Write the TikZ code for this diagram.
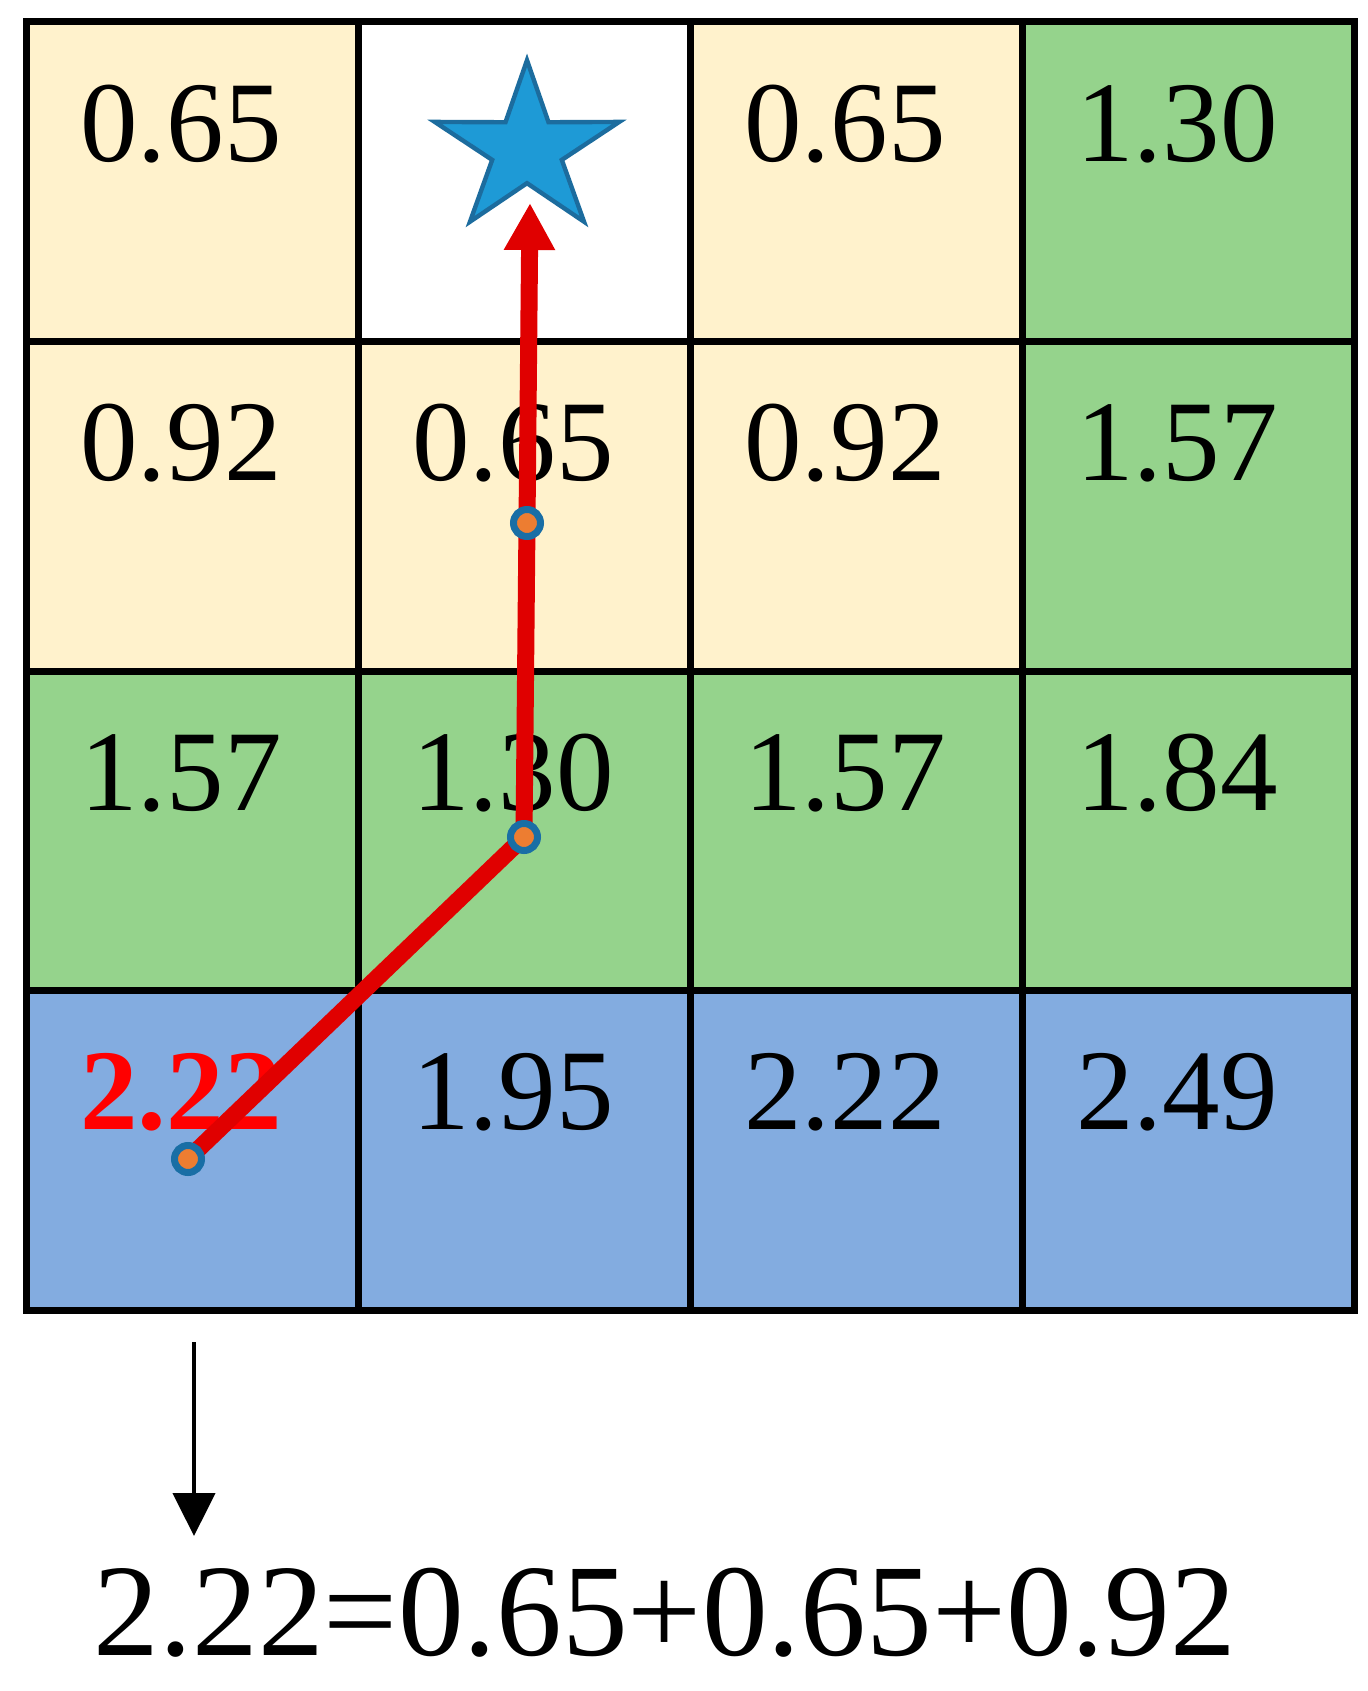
\documentclass[tikz,border=0pt]{standalone}
\usepackage{fontspec}
\setmainfont{Liberation Serif}
\usetikzlibrary{shapes.geometric,arrows.meta}
\definecolor{cellyellow}{RGB}{255,242,204}
\definecolor{cellgreen}{RGB}{149,211,140}
\definecolor{cellblue}{RGB}{131,172,224}
\definecolor{pathred}{RGB}{224,0,0}
\definecolor{starfill}{RGB}{30,154,214}
\definecolor{stardraw}{RGB}{28,108,158}
\definecolor{dotfill}{RGB}{237,125,49}
\definecolor{dotdraw}{RGB}{25,110,165}
\pgfdeclarelayer{lines}
\pgfdeclarelayer{front}
\pgfsetlayers{main,lines,front}
\begin{document}
\begin{tikzpicture}[x=0.5pt,y=-0.5pt,
  cell/.style={rectangle, draw=black, line width=3.5pt, minimum width=166pt, inner sep=0pt},
  rowa/.style={minimum height=159.5pt},
  rowb/.style={minimum height=165pt},
  rowc/.style={minimum height=159.5pt},
  rowd/.style={minimum height=160pt},
  val/.style={inner sep=0pt, font=\fontsize{57.5}{60}\selectfont},
  dot/.style={circle, fill=dotfill, draw=dotdraw, line width=3.5pt, minimum size=13.5pt, inner sep=0pt},
  route/.style={draw=pathred, line width=8.5pt},
]
\useasboundingbox[fill=white] (0,0) rectangle (1367,1691);

% row 1
\node[cell,rowa,fill=cellyellow] (c11) at (192,181.5) {};
\node[cell,rowa,fill=white]      (c21) at (524,181.5) {};
\node[cell,rowa,fill=cellyellow] (c31) at (856,181.5) {};
\node[cell,rowa,fill=cellgreen]  (c41) at (1188,181.5) {};
% row 2
\node[cell,rowb,fill=cellyellow] (c12) at (192,506) {};
\node[cell,rowb,fill=cellyellow] (c22) at (524,506) {};
\node[cell,rowb,fill=cellyellow] (c32) at (856,506) {};
\node[cell,rowb,fill=cellgreen]  (c42) at (1188,506) {};
% row 3
\node[cell,rowc,fill=cellgreen] (c13) at (192,830.5) {};
\node[cell,rowc,fill=cellgreen] (c23) at (524,830.5) {};
\node[cell,rowc,fill=cellgreen] (c33) at (856,830.5) {};
\node[cell,rowc,fill=cellgreen] (c43) at (1188,830.5) {};
% row 4
\node[cell,rowd,fill=cellblue] (c14) at (192,1150) {};
\node[cell,rowd,fill=cellblue] (c24) at (524,1150) {};
\node[cell,rowd,fill=cellblue] (c34) at (856,1150) {};
\node[cell,rowd,fill=cellblue] (c44) at (1188,1150) {};

% values
\node[val] (v11) at (181,124) {0.65};
\node[val] (v31) at (845,124) {0.65};
\node[val] (v41) at (1177,124) {1.30};
\node[val] (v12) at (181,443) {0.92};
\node[val] (v22) at (513,443) {0.65};
\node[val] (v32) at (845,443) {0.92};
\node[val] (v42) at (1177,443) {1.57};
\node[val] (v13) at (181,773) {1.57};
\node[val] (v23) at (513,773) {1.30};
\node[val] (v33) at (845,773) {1.57};
\node[val] (v43) at (1177,773) {1.84};
\node[val,text=red,font=\fontsize{57.5}{60}\selectfont\bfseries] (v14) at (181,1092) {2.22};
\node[val] (v24) at (513,1092) {1.95};
\node[val] (v34) at (845,1092) {2.22};
\node[val] (v44) at (1177,1092) {2.49};

% goal star (slightly flattened, as in the reference)
\begin{scope}[shift={(527,149.5)}, yscale=0.92]
\node[star, star points=5, star point ratio=2.65, minimum size=97pt, inner sep=0pt,
      fill=starfill, draw=stardraw, line width=2.2pt, transform shape] (goal) at (0,0) {};
\end{scope}
\coordinate (tip) at (530,203);

% path points
\begin{pgfonlayer}{front}
\node[dot] (p1) at (188,1159) {};
\node[dot] (p2) at (524,837) {};
\node[dot] (p3) at (527,523) {};
\end{pgfonlayer}
\begin{pgfonlayer}{lines}
\draw[route, -{Triangle[length=23.5pt,width=24pt]}]
  (p1.center) -- (p2.center) -- (p3.center) -- (tip);
\end{pgfonlayer}

% explanation
\coordinate (down0) at (194,1342);
\coordinate (down1) at (194,1536);
\draw[line width=2.2pt, -{Triangle[length=21.5pt,width=21pt]}] (down0) -- (down1);
\node[inner sep=0pt, font=\fontsize{65.7}{68}\selectfont] (eq) at (665,1613) {2.22=0.65+0.65+0.92};
\end{tikzpicture}
\end{document}
